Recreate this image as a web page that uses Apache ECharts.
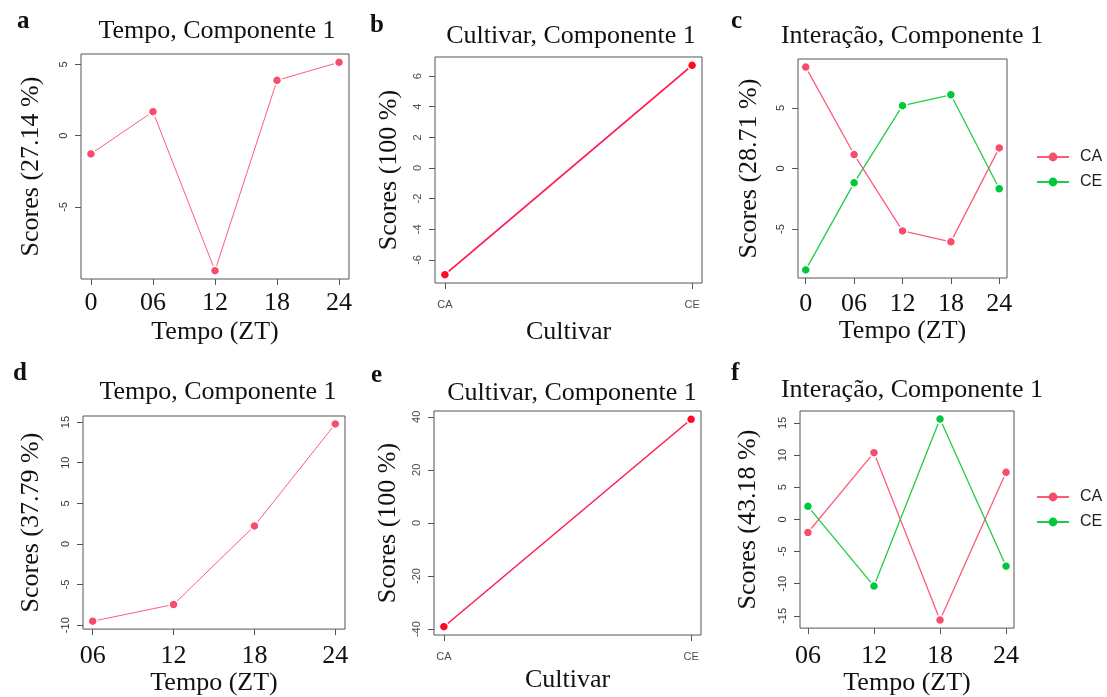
<!DOCTYPE html>
<html>
<head>
<meta charset="utf-8">
<script src="https://cdn.jsdelivr.net/npm/echarts@6/dist/echarts.min.js"></script>
<style>
html,body{margin:0;padding:0;background:#fff;}
#chart{width:1107px;height:697px;}
</style>
</head>
<body>
<div id="chart"></div>
<script>
// ---- data ----
const tempoAll = [0, 6, 12, 18, 24];
const tempoAllLabels = ['0', '06', '12', '18', '24'];
const tempoLate = [6, 12, 18, 24];
const tempoLateLabels = ['06', '12', '18', '24'];
const cultivars = ['CA', 'CE'];

const scoresA = [-1.28, 1.68, -9.47, 3.88, 5.14];
const scoresB = [-6.96, 6.70];
const scoresC_CA = [8.36, 1.15, -5.15, -6.05, 1.70];
const scoresC_CE = [-8.36, -1.18, 5.18, 6.08, -1.67];
const scoresD = [-9.51, -7.45, 2.22, 14.78];
const scoresE = [-39.1, 39.06];
const scoresF_CA = [-2.04, 10.37, -15.65, 7.32];
const scoresF_CE = [2.03, -10.37, 15.6, -7.27];

const yTicksA = [-5, 0, 5];
const yTicksB = [-6, -4, -2, 0, 2, 4, 6];
const yTicksC = [-5, 0, 5];
const yTicksD = [-10, -5, 0, 5, 10, 15];
const yTicksE = [-40, -20, 0, 20, 40];
const yTicksF = [-15, -10, -5, 0, 5, 10, 15];

const titles = ['Tempo, Componente 1', 'Cultivar, Componente 1', 'Interação, Componente 1',
                'Tempo, Componente 1', 'Cultivar, Componente 1', 'Interação, Componente 1'];
const panelLetters = ['a', 'b', 'c', 'd', 'e', 'f'];
const yNames = ['Scores (27.14 %)', 'Scores (100 %)', 'Scores (28.71 %)',
                'Scores (37.79 %)', 'Scores (100 %)', 'Scores (43.18 %)'];
const xNames = ['Tempo (ZT)', 'Cultivar', 'Tempo (ZT)', 'Tempo (ZT)', 'Cultivar', 'Tempo (ZT)'];

// ---- layout ----
const grids = [
  {left: 81, top: 54, width: 268, height: 225},
  {left: 435, top: 57, width: 267, height: 226},
  {left: 798, top: 59, width: 209, height: 219},
  {left: 83, top: 416, width: 262, height: 219},
  {left: 434, top: 411, width: 267, height: 224},
  {left: 800, top: 411, width: 214, height: 222}
];
const titlePos = [[212, 13], [566, 18], [907, 18], [213, 374], [567, 375], [907, 372]];
const letterPos = [[12, 4], [365, 8], [726, 4], [8, 356], [366, 358], [726, 356]];
const xNameGap = [40, 36, 39, 32, 32, 37];
const yNameGap = [37, 33, 36, 39, 33, 39];
const xLabelMargin = [11, 16, 13, 14, 16, 15];

const PINK = '#F74D6D', PINK_LINE = '#FF5C7A';
const RED = '#FF0A20', RED_LINE = '#FF1A50';
const GREEN = '#00C83C', GREEN_LINE = '#22CC44';

function padRange(vals) {
  const mn = Math.min(...vals), mx = Math.max(...vals), p = (mx - mn) * 0.04;
  return [mn - p, mx + p];
}
function pairs(xs, ys) { return xs.map((x, i) => [x, ys[i]]); }

const xDefs = [
  {vals: tempoAll, labels: tempoAllLabels, cat: false},
  {vals: [0, 1], labels: cultivars, cat: true},
  {vals: tempoAll, labels: tempoAllLabels, cat: false},
  {vals: tempoLate, labels: tempoLateLabels, cat: false},
  {vals: [0, 1], labels: cultivars, cat: true},
  {vals: tempoLate, labels: tempoLateLabels, cat: false}
];
const yData = [scoresA, scoresB, scoresC_CA.concat(scoresC_CE), scoresD, scoresE, scoresF_CA.concat(scoresF_CE)];
const yTicks = [yTicksA, yTicksB, yTicksC, yTicksD, yTicksE, yTicksF];

const serif = '"Liberation Serif", "DejaVu Serif", serif';
const sans = '"Liberation Sans", Arial, sans-serif';

const xAxes = xDefs.map((d, i) => {
  const r = padRange(d.vals);
  return {
    type: 'value', gridIndex: i, min: r[0], max: r[1], position: 'bottom',
    axisLine: {show: false, onZero: false},
    splitLine: {show: false},
    axisTick: {show: true, inside: false, length: 6, customValues: d.vals, lineStyle: {color: '#555'}},
    axisLabel: {
      customValues: d.vals, margin: xLabelMargin[i],
      formatter: v => d.labels[d.vals.indexOf(Math.round(v * 1000) / 1000)] ?? '',
      fontFamily: d.cat ? sans : serif, fontSize: d.cat ? 11 : 26, color: d.cat ? '#5a4a3a' : '#111'
    },
    name: xNames[i], nameLocation: 'middle', nameGap: xNameGap[i],
    nameTextStyle: {fontFamily: serif, fontSize: 26, color: '#111'}
  };
});
const yAxes = yData.map((vals, i) => {
  const r = padRange(vals);
  return {
    type: 'value', gridIndex: i, min: r[0], max: r[1], position: 'left',
    axisLine: {show: false, onZero: false},
    splitLine: {show: false},
    axisTick: {show: true, inside: false, length: 6, customValues: yTicks[i], lineStyle: {color: '#555'}},
    axisLabel: {customValues: yTicks[i], rotate: 90, margin: 12, fontFamily: sans, fontSize: 11,
      color: (i === 1 || i === 4) ? '#5a4a3a' : '#333'},
    name: yNames[i], nameLocation: 'middle', nameRotate: 90, nameGap: yNameGap[i],
    nameTextStyle: {fontFamily: serif, fontSize: 26, color: '#111'}
  };
});

function mkSeries(name, idx, data, lineColor, pointColor, width) {
  return {
    type: 'line', name: name, xAxisIndex: idx, yAxisIndex: idx, data: data,
    symbol: 'circle', symbolSize: 9, showSymbol: true, animation: false,
    lineStyle: {color: lineColor, width: width},
    itemStyle: {color: pointColor, borderColor: '#fff', borderWidth: 1.5}
  };
}

const series = [
  mkSeries('A', 0, pairs(tempoAll, scoresA), PINK_LINE, PINK, 1),
  mkSeries('B', 1, pairs([0, 1], scoresB), RED_LINE, RED, 1.8),
  mkSeries('CA', 2, pairs(tempoAll, scoresC_CA), PINK_LINE, PINK, 1.3),
  mkSeries('CE', 2, pairs(tempoAll, scoresC_CE), GREEN_LINE, GREEN, 1.3),
  mkSeries('D', 3, pairs(tempoLate, scoresD), PINK_LINE, PINK, 1),
  mkSeries('E', 4, pairs([0, 1], scoresE), RED_LINE, RED, 1.5),
  mkSeries('CA', 5, pairs(tempoLate, scoresF_CA), PINK_LINE, PINK, 1.3),
  mkSeries('CE', 5, pairs(tempoLate, scoresF_CE), GREEN_LINE, GREEN, 1.3)
];

const titleOpts = titles.map((t, i) => ({
  text: t, left: titlePos[i][0], top: titlePos[i][1], textAlign: 'center',
  textStyle: {fontFamily: serif, fontSize: 26, fontWeight: 'normal', color: '#111'}
})).concat(panelLetters.map((t, i) => ({
  text: t, left: letterPos[i][0], top: letterPos[i][1],
  textStyle: {fontFamily: serif, fontSize: 25, fontWeight: 'bold', color: '#111'}
})));

function mkLegend(top) {
  return {
    data: ['CA', 'CE'], orient: 'vertical', left: 1031, top: top,
    itemWidth: 32, itemHeight: 11, itemGap: 9, selectedMode: false,
    itemStyle: {borderWidth: 0},
    textStyle: {fontFamily: sans, fontSize: 16, color: '#222', padding: [0, 0, 0, 6]}
  };
}

const option = {
  backgroundColor: '#fff',
  animation: false,
  title: titleOpts,
  legend: [mkLegend(144), mkLegend(484)],
  grid: grids.map(g => Object.assign({show: true, borderColor: '#555', borderWidth: 1, backgroundColor: 'transparent'}, g)),
  xAxis: xAxes,
  yAxis: yAxes,
  series: series
};

const chart = echarts.init(document.getElementById('chart'), null, {renderer: 'canvas'});
chart.setOption(option);
</script>
</body>
</html>
